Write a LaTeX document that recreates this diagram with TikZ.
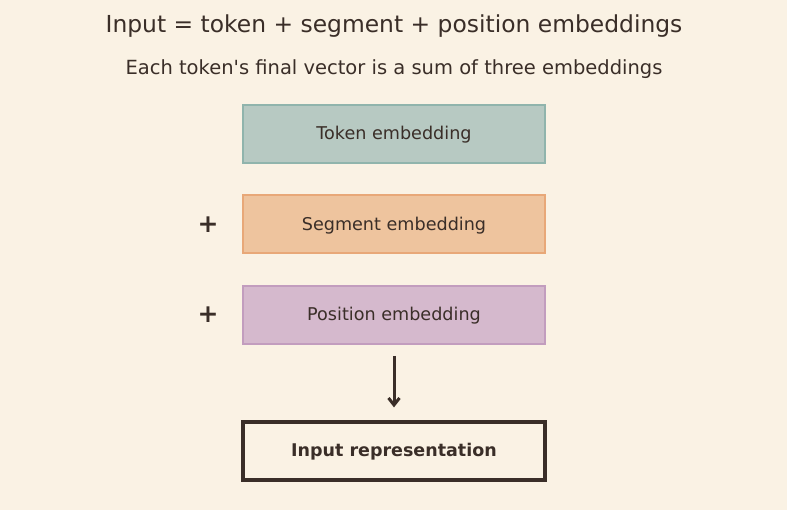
\documentclass[tikz,border=0pt]{standalone}
\usepackage{fontspec}
\setmainfont{DejaVu Sans}[Ligatures=TeXOff]
\usetikzlibrary{arrows.meta}
\definecolor{bg}{HTML}{FAF2E4}
\definecolor{ink}{HTML}{3A2E28}
\definecolor{tokfill}{HTML}{B7C9C2}
\definecolor{tokline}{HTML}{90B4AC}
\definecolor{segfill}{HTML}{EEC49E}
\definecolor{segline}{HTML}{E8A878}
\definecolor{posfill}{HTML}{D5B9CD}
\definecolor{posline}{HTML}{C29DBE}
\tikzset{
  emb/.style={draw, line width=2pt, minimum width=302pt, minimum height=58pt, inner sep=0pt, text=ink, font=\fontsize{17.6}{21}\selectfont, text depth=2pt},
  outbox/.style={draw=ink, line width=3.2pt, minimum width=302pt, minimum height=58pt, inner sep=0pt, text=ink, font=\bfseries\fontsize{17.5}{21}\selectfont, text depth=2pt},
  plus/.style={text=ink, font=\bfseries\fontsize{25}{28}\selectfont, inner sep=0pt},
  ttl/.style={text=ink, inner sep=0pt}
}
\begin{document}
\begin{tikzpicture}[x=1pt,y=-1pt]
\fill[bg] (0,0) rectangle (787,510);
\useasboundingbox (0,0) rectangle (787,510);
\node[ttl, font=\fontsize{23.4}{27}\selectfont] (title) at (394,26.5) {Input = token + segment + position embeddings};
\node[ttl, font=\fontsize{19.5}{23}\selectfont] (sub) at (394,69.5) {Each token's final vector is a sum of three embeddings};
\node[emb, draw=tokline, fill=tokfill] (tok) at (394,134) {Token embedding};
\node[emb, draw=segline, fill=segfill] (seg) at (394,224.5) {Segment embedding};
\node[emb, draw=posline, fill=posfill] (pos) at (394,315) {Position embedding};
\node[outbox] (inp) at (394,451) {Input representation};
\node[plus] (p1) at (208,225) {+};
\node[plus] (p2) at (208,315) {+};
\draw[ink, line width=3pt, -{Straight Barb[length=7pt,width=11pt]}] ([yshift=-11pt]pos.south) -- ([yshift=13pt]inp.north);
\end{tikzpicture}
\end{document}
